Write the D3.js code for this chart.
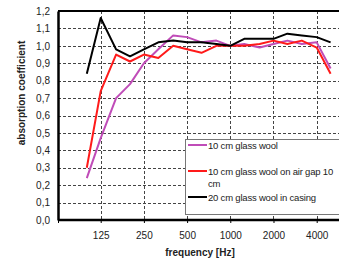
<!DOCTYPE html>
<html>
<head>
<meta charset="utf-8">
<script src="https://cdn.jsdelivr.net/npm/d3@7"></script>
<style>
  body { margin: 0; background: #fff; }
  svg { display: block; font-family: "Liberation Sans", Arial, sans-serif; }
</style>
</head>
<body>
<div id="chart"></div>
<script>
// third-octave band centre frequencies
const freqs = [100, 125, 160, 200, 250, 315, 400, 500, 630, 800, 1000, 1250, 1600, 2000, 2500, 3150, 4000, 5000];

const glassWool = [0.24, 0.47, 0.70, 0.78, 0.90, 0.98, 1.06, 1.05, 1.02, 1.03, 1.00, 1.01, 0.99, 1.01, 1.03, 1.01, 1.02, 0.87];
const airGap = [0.30, 0.74, 0.95, 0.91, 0.95, 0.93, 1.00, 0.98, 0.96, 1.00, 1.00, 1.00, 1.01, 1.03, 1.01, 1.03, 0.99, 0.84];
const casing = [0.84, 1.16, 0.98, 0.94, 0.98, 1.02, 1.03, 1.02, 1.02, 1.01, 1.00, 1.04, 1.04, 1.04, 1.07, 1.06, 1.05, 1.02];

const xTicks = [125, 250, 500, 1000, 2000, 4000];
const yTicks = d3.range(0, 13).map(d => d / 10);

const series = [
  { name: "10 cm glass wool", values: glassWool, color: "#c04cb8" },
  { name: "10 cm glass wool on air gap 10 cm", values: airGap, color: "#ff1a1a" },
  { name: "20 cm glass wool in casing", values: casing, color: "#000" },
];

const width = 339, height = 265;
const margin = { top: 11, left: 58, bottom: 45 };

const svg = d3.select("#chart").append("svg")
  .attr("width", width).attr("height", height);

const x = d3.scaleLog().domain([63, 6300]).range([margin.left, margin.left + 287]);
const y = d3.scaleLinear().domain([0, 1.2]).range([height - margin.bottom, margin.top]);

const fmt = d => d.toFixed(1).replace(".", ",");

// grid
svg.append("g")
  .selectAll("line")
  .data(yTicks.filter(d => d > 0 && d < 1.2))
  .join("line")
  .attr("x1", margin.left).attr("x2", width)
  .attr("y1", d => Math.round(y(d)) + 0.5).attr("y2", d => Math.round(y(d)) + 0.5)
  .attr("stroke", "#444").attr("stroke-dasharray", "3,2");

svg.append("g")
  .selectAll("line")
  .data(xTicks)
  .join("line")
  .attr("x1", d => Math.round(x(d)) + 0.5).attr("x2", d => Math.round(x(d)) + 0.5)
  .attr("y1", y(1.2)).attr("y2", y(0))
  .attr("stroke", "#444").attr("stroke-dasharray", "3,2");

// top border
svg.append("line")
  .attr("x1", margin.left).attr("x2", width)
  .attr("y1", y(1.2)).attr("y2", y(1.2))
  .attr("stroke", "#000").attr("stroke-width", 2);

// y axis
const yAxis = svg.append("g")
  .attr("transform", `translate(${margin.left},0)`)
  .call(d3.axisLeft(y).tickValues(yTicks).tickFormat(fmt).tickSize(0).tickPadding(8));
yAxis.select(".domain").attr("stroke-width", 2.5);
yAxis.selectAll("text").attr("font-size", 10).attr("fill", "#222");

// x axis
const xAxis = svg.append("g")
  .attr("transform", `translate(0,${y(0)})`)
  .call(d3.axisBottom(x).tickValues([63].concat(xTicks)).tickFormat(d => d === 63 ? "" : d).tickSize(3).tickPadding(9));
xAxis.select(".domain").attr("stroke-width", 2.5).attr("d", `M${margin.left},0H${width}`);
xAxis.selectAll("text").attr("font-size", 10).attr("fill", "#222");

// lines
const line = d3.line()
  .x((d, i) => x(freqs[i]))
  .y(d => y(d));

svg.append("g")
  .selectAll("path")
  .data(series)
  .join("path")
  .attr("d", d => line(d.values))
  .attr("fill", "none")
  .attr("stroke", d => d.color)
  .attr("stroke-width", 2)
  .attr("stroke-linejoin", "round");

// legend
const lg = svg.append("g");
lg.append("rect")
  .attr("x", 185.5).attr("y", 139.5)
  .attr("width", 160).attr("height", 75)
  .attr("fill", "#fff").attr("stroke", "#777");

const legendRows = [
  { s: series[0], y: 145, lines: ["10 cm glass wool"] },
  { s: series[1], y: 171, lines: ["10 cm glass wool on air gap 10", "cm"] },
  { s: series[2], y: 197, lines: ["20 cm glass wool in casing"] },
];
legendRows.forEach(r => {
  lg.append("line")
    .attr("x1", 188).attr("x2", 207)
    .attr("y1", r.y).attr("y2", r.y)
    .attr("stroke", r.s.color).attr("stroke-width", 2);
  r.lines.forEach((t, i) => {
    lg.append("text")
      .attr("x", 208).attr("y", r.y + 3.5 + i * 12)
      .attr("font-size", 9.5).attr("fill", "#222")
      .attr("letter-spacing", -0.2)
      .text(t);
  });
});

// axis titles
svg.append("text")
  .attr("x", 200).attr("y", 256)
  .attr("text-anchor", "middle")
  .attr("font-size", 10).attr("font-weight", "bold").attr("fill", "#222")
  .text("frequency [Hz]");

svg.append("text")
  .attr("transform", "translate(25,93) rotate(-90)")
  .attr("text-anchor", "middle")
  .attr("font-size", 10).attr("font-weight", "bold").attr("fill", "#222")
  .text("absorption coefficient");
</script>
</body>
</html>
